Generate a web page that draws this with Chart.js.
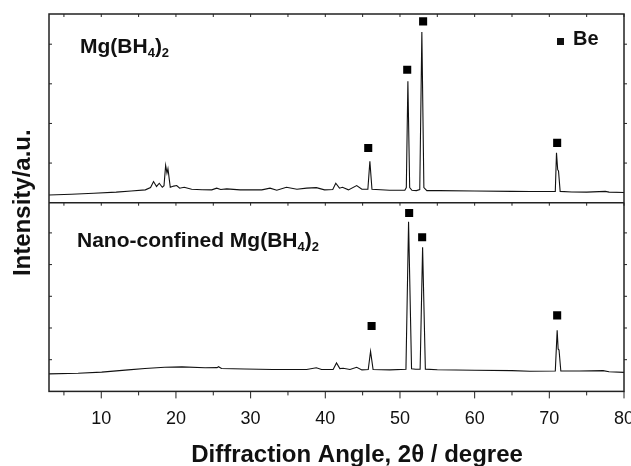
<!DOCTYPE html>
<html lang="en">
<head>
<meta charset="UTF-8">
<title>XRD of Mg(BH4)2 and nano-confined Mg(BH4)2</title>
<style>
    html, body { margin: 0; padding: 0; background: #fff; }
    #wrap { width: 631px; height: 466px; }
</style>
</head>
<body>
<div id="wrap"><canvas id="xrd" width="631" height="466"></canvas></div>

<script src="https://cdn.jsdelivr.net/npm/chart.js"></script>
<script>
// upper panel: bulk Mg(BH4)2, 2theta in degrees / intensity in a.u.
const bulkAngle = [3, 6, 9, 12, 14, 15.9, 16.6, 17.0, 17.4, 17.77, 18.17, 18.4, 18.62, 18.8, 18.93, 19.24,
    19.7, 20.1, 20.5, 21.1, 22.1, 23.5, 24.8, 25.45, 26.0, 26.8, 28.6, 31.5, 32.6, 33.5, 34.8, 36.2,
    37.5, 38.8, 39.9, 41.0, 41.4, 41.9, 42.3, 43.1, 44.2, 44.9, 45.7, 45.97, 46.25, 48.6, 50.65, 50.85,
    51.06, 51.3, 51.6, 52.2, 52.65, 52.93, 53.2, 53.6, 55.3, 60, 65, 67.4, 70.8, 70.96, 71.12, 71.23,
    71.45, 73, 75, 77.5, 78, 80];
const bulkIntensity = [41, 45, 50, 56, 62, 68, 80, 112, 86, 103, 82, 90, 198, 157, 180, 82,
    88, 91, 77, 82, 71, 69, 68, 77, 70, 73, 68, 68, 77, 66, 82, 71,
    77, 80, 68, 70, 103, 77, 82, 68, 91, 71, 71, 219, 71, 66, 66, 80,
    644, 80, 66, 64, 70, 904, 80, 64, 64, 62, 60, 59, 60, 264, 175, 168,
    60, 57, 56, 60, 56, 54];

// lower panel: nano-confined Mg(BH4)2
const nanoAngle = [3, 6.9, 10.05, 13.6, 15.85, 18.5, 20.8, 23.9, 25.5, 25.7, 26.1, 29.2, 33.0, 37.5, 38.8, 39.5,
    41.05, 41.5, 41.95, 42.4, 43.3, 44.2, 44.9, 45.75, 46.06, 46.4, 48.65, 50.8, 51.15, 51.55, 52.1, 52.7,
    53.03, 53.4, 55, 60, 65, 67.4, 70.8, 71.05, 71.18, 71.3, 71.54, 74, 77.2, 78, 80];
const nanoIntensity = [93, 96, 102, 114, 121, 128, 130, 125, 126, 131, 121, 119, 116, 116, 125, 116,
    116, 151, 121, 123, 116, 128, 114, 116, 212, 116, 114, 117, 899, 120, 117, 118,
    764, 118, 115, 112, 110, 107, 108, 324, 225, 219, 108, 108, 110, 104, 101];

// Be reflections marked with squares
const bulkBeAngle = [45.75, 50.97, 53.1, 71.05];
const bulkBeIntensity = [290, 705, 961, 317];
const nanoBeAngle = [46.2, 51.23, 52.97, 71.05];
const nanoBeIntensity = [347, 945, 817, 403];

const xTicks = [10, 20, 30, 40, 50, 60, 70, 80];

function toPoints(xs, ys) {
    return xs.map((x, i) => ({ x: x, y: ys[i] }));
}

const boldFont = '"Liberation Sans", Arial, sans-serif';

// draws a label like Mg(BH4)2 with subscripts
function drawFormula(ctx, parts, x, y) {
    parts.forEach(p => {
        ctx.font = p.sub ? 'bold 13px ' + boldFont : 'bold 21px ' + boldFont;
        ctx.fillText(p.t, x, p.sub ? y + 4 : y);
        x += ctx.measureText(p.t).width;
    });
}

// frame, tick marks, panel labels and legend
const framePlugin = {
    id: 'frame',
    afterDatasetsDraw(chart) {
        const ctx = chart.ctx;
        const area = chart.chartArea;
        const xs = chart.scales.x;
        const yb = chart.scales.yBulk;
        const yn = chart.scales.yNano;
        const mid = yb.bottom;

        ctx.save();
        ctx.strokeStyle = '#222';
        ctx.lineWidth = 1.5;
        ctx.strokeRect(area.left, area.top, area.right - area.left, area.bottom - area.top);
        ctx.beginPath();
        ctx.moveTo(area.left, mid);
        ctx.lineTo(area.right, mid);
        ctx.stroke();

        ctx.lineWidth = 1;
        ctx.beginPath();
        xs.ticks.forEach(t => {
            if (t.value % 5 !== 0) return;
            const px = xs.getPixelForValue(t.value);
            const len = t.value % 10 === 0 ? 7 : 4;
            ctx.moveTo(px, area.bottom);
            ctx.lineTo(px, area.bottom + len);
            ctx.moveTo(px, area.top);
            ctx.lineTo(px, area.top + 3);
            ctx.moveTo(px, mid);
            ctx.lineTo(px, mid + 3);
        });
        [yb, yn].forEach(s => {
            s.ticks.forEach(t => {
                const py = s.getPixelForValue(t.value);
                if (py <= s.top + 2 || py >= s.bottom - 2) return;
                ctx.moveTo(area.left, py);
                ctx.lineTo(area.left + 3, py);
                ctx.moveTo(area.right, py);
                ctx.lineTo(area.right + 3, py);
            });
        });
        ctx.stroke();

        ctx.fillStyle = '#111';
        ctx.textBaseline = 'alphabetic';
        ctx.textAlign = 'left';
        drawFormula(ctx, [{ t: 'Mg(BH' }, { t: '4', sub: true }, { t: ')' }, { t: '2', sub: true }],
            area.left + 31, yb.top + 39);
        drawFormula(ctx, [{ t: 'Nano-confined Mg(BH' }, { t: '4', sub: true }, { t: ')' }, { t: '2', sub: true }],
            area.left + 28, yn.top + 44);

        // legend
        ctx.fillRect(area.right - 67, yb.top + 24, 7, 7);
        ctx.font = 'bold 20px ' + boldFont;
        ctx.fillText('Be', area.right - 51, yb.top + 31);

        // axis titles
        ctx.font = 'bold 24px ' + boldFont;
        ctx.textAlign = 'center';
        ctx.fillText('Diffraction Angle, 2\u03b8 / degree', 357, 462);
        ctx.translate(23, (area.top + area.bottom) / 2);
        ctx.rotate(-Math.PI / 2);
        ctx.textBaseline = 'middle';
        ctx.fillText('Intensity/a.u.', 0, 0);
        ctx.restore();
    }
};

const lineStyle = {
    borderColor: '#111',
    borderWidth: 1.1,
    pointRadius: 0,
    tension: 0,
    fill: false
};
const markStyle = {
    type: 'scatter',
    pointStyle: 'rect',
    pointRadius: 5.7,
    pointBorderWidth: 0,
    backgroundColor: '#000',
    borderColor: '#000',
    showLine: false
};

new Chart(document.getElementById('xrd'), {
    type: 'line',
    data: {
        datasets: [
            Object.assign({ label: 'Mg(BH4)2', data: toPoints(bulkAngle, bulkIntensity), yAxisID: 'yBulk' }, lineStyle),
            Object.assign({ label: 'Nano-confined Mg(BH4)2', data: toPoints(nanoAngle, nanoIntensity), yAxisID: 'yNano' }, lineStyle),
            Object.assign({ label: 'Be', data: toPoints(bulkBeAngle, bulkBeIntensity), yAxisID: 'yBulk' }, markStyle),
            Object.assign({ label: 'Be (nano)', data: toPoints(nanoBeAngle, nanoBeIntensity), yAxisID: 'yNano' }, markStyle)
        ]
    },
    options: {
        responsive: false,
        animation: false,
        layout: { padding: { left: 49, right: 7, top: 14, bottom: 19 } },
        plugins: {
            legend: { display: false },
            tooltip: { enabled: false }
        },
        scales: {
            x: {
                type: 'linear',
                min: 3,
                max: 80,
                afterBuildTicks: s => {
                    const vals = [5, 15, 25, 35, 45, 55, 65, 75].concat(xTicks);
                    s.ticks = vals.sort((a, b) => a - b).map(v => ({ value: v }));
                },
                // let the "80" label run past the frame, like the original
                afterFit: s => {
                    s.paddingLeft = 0;
                    s.paddingRight = 0;
                },
                ticks: {
                    autoSkip: false,
                    maxRotation: 0,
                    padding: 17,
                    color: '#111',
                    font: { family: boldFont, size: 18 },
                    callback: v => (xTicks.includes(v) ? v : '')
                },
                grid: { display: false, drawTicks: false },
                border: { display: false }
            },
            // stacked panels: the first one listed is drawn at the bottom
            yNano: {
                type: 'linear',
                display: false,
                stack: 'xrd',
                stackWeight: 1,
                min: 0,
                max: 1000,
                ticks: { stepSize: 84 }
            },
            yBulk: {
                type: 'linear',
                display: false,
                stack: 'xrd',
                stackWeight: 1,
                min: 0,
                max: 1000,
                ticks: { stepSize: 70 }
            }
        }
    },
    plugins: [framePlugin]
});
</script>
</body>
</html>
